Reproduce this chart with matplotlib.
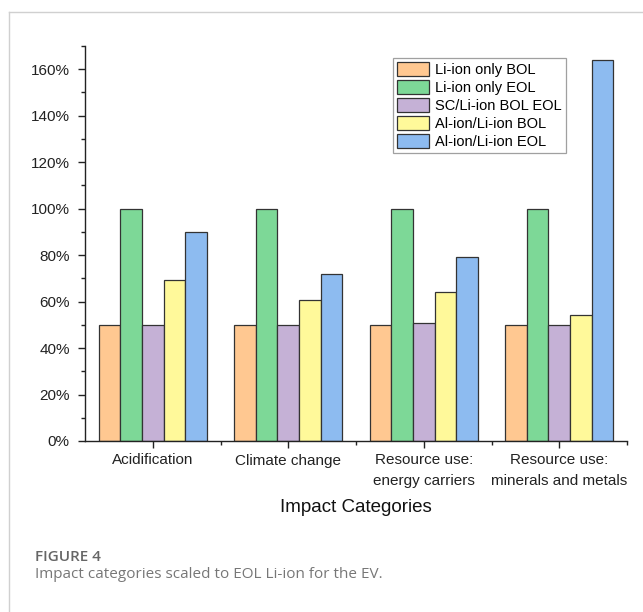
import numpy as np
import matplotlib
matplotlib.use("Agg")
import matplotlib.pyplot as plt
from matplotlib.ticker import MultipleLocator, FuncFormatter, FixedLocator
from matplotlib.lines import Line2D

# datos (porcentaje respecto a EOL Li-ion)
categories = ["Acidification", "Climate change", "Resource use:\nenergy carriers",
              "Resource use:\nminerals and metals"]
series_names = ["Li-ion only BOL", "Li-ion only EOL", "SC/Li-ion BOL EOL",
                "Al-ion/Li-ion BOL", "Al-ion/Li-ion EOL"]
li_only_bol = [50, 50, 50, 50]
li_only_eol = [100, 100, 100, 100]
sc_li_bol_eol = [50, 50, 50.6, 50]
al_li_bol = [69.5, 60.5, 64, 54.2]
al_li_eol = [90, 72, 79, 163.8]
colors = ["#FFC891", "#7DD897", "#C5B1D6", "#FFF99A", "#8DBBF0"]

plt.rcParams['font.family'] = ['Liberation Sans', 'DejaVu Sans']

fig = plt.figure(figsize=(6.43, 6.12), dpi=100)
ax = fig.add_axes([85 / 643, 1 - 441 / 612, (627 - 85) / 643, (441 - 46) / 612])

series = [li_only_bol, li_only_eol, sc_li_bol_eol, al_li_bol, al_li_eol]
x = np.arange(len(categories))
width = 0.16
for i, (vals, name, col) in enumerate(zip(series, series_names, colors)):
    ax.bar(x + (i - 2) * width, vals, width, color=col, edgecolor="#333333",
           linewidth=0.9, label=name, zorder=2)

ax.set_xlim(-0.5, 3.5)
ax.set_ylim(0, 170)

# ejes estilo Origin: solo izquierda y abajo
for s in ["top", "right"]:
    ax.spines[s].set_visible(False)
for s in ["left", "bottom"]:
    ax.spines[s].set_linewidth(1.0)
    ax.spines[s].set_color("#222222")

ax.yaxis.set_major_locator(MultipleLocator(20))
ax.yaxis.set_minor_locator(MultipleLocator(10))
ax.yaxis.set_major_formatter(FuncFormatter(lambda v, p: f"{v:.0f}%"))
ax.set_xticks(x)
ax.set_xticklabels(categories, linespacing=1.6)
ax.xaxis.set_minor_locator(FixedLocator([0.5, 1.5, 2.5, 3.5]))

ax.tick_params(axis="both", which="major", direction="out", length=5, width=1,
               labelsize=11, color="#222222", labelcolor="#222222")
ax.tick_params(axis="y", which="major", pad=6)
ax.tick_params(axis="x", which="major", pad=4)
ax.tick_params(axis="both", which="minor", direction="out", length=3, width=1,
               color="#222222")

ax.set_xlabel("Impact Categories", fontsize=13.5, color="#111111", labelpad=8)

leg = ax.legend(loc="upper left", bbox_to_anchor=(393 / 643, 1 - 58 / 612),
                bbox_transform=fig.transFigure, borderaxespad=0, fontsize=10.5,
                frameon=True, fancybox=False, handlelength=2.2, handleheight=1.1,
                handletextpad=0.35, labelspacing=0.2, borderpad=0.3)
leg.get_frame().set_edgecolor("#888888")
leg.get_frame().set_linewidth(0.9)

# marco de la figura
fig.add_artist(Line2D([9 / 643, 9 / 643], [0, 1 - 12 / 612], transform=fig.transFigure,
                      color="#d0d0d0", linewidth=1))
fig.add_artist(Line2D([9 / 643, 1], [1 - 12 / 612, 1 - 12 / 612], transform=fig.transFigure,
                      color="#d0d0d0", linewidth=1))

# pie de figura
fig.text(35 / 643, 1 - 557 / 612, "FIGURE 4", fontsize=11, color="#666666",
         family=["Open Sans", "DejaVu Sans"], fontweight="semibold", va="center")
fig.text(35 / 643, 1 - 574 / 612, "Impact categories scaled to EOL Li-ion for the EV.",
         fontsize=11, color="#777777", family=["Open Sans", "DejaVu Sans"], va="center")

plt.savefig("out.png", dpi=100)
plt.close()
